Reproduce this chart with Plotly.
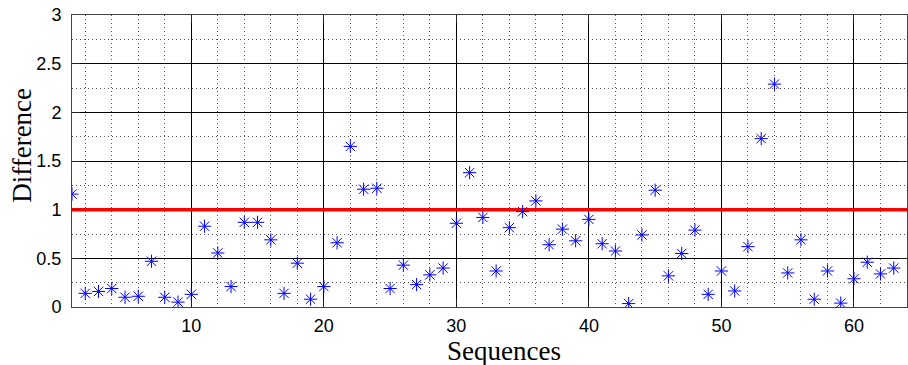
import plotly.graph_objects as go

# Data
sequences = list(range(1, 64))
difference = [
    1.16, 0.14, 0.16, 0.19, 0.10, 0.11, 0.47, 0.10, 0.05, 0.13,
    0.83, 0.555, 0.21, 0.87, 0.87, 0.69, 0.14, 0.45, 0.08, 0.21,
    0.66, 1.65, 1.21, 1.22, 0.19, 0.43, 0.23, 0.33, 0.40, 0.86,
    1.38, 0.92, 0.37, 0.815, 0.98, 1.09, 0.64, 0.80, 0.68, 0.90,
    0.65, 0.575, 0.035, 0.74, 1.20, 0.32, 0.55, 0.79, 0.13, 0.37,
    0.165, 0.62, 1.73, 2.29, 0.35, 0.69, 0.08, 0.37, 0.04, 0.29,
    0.46, 0.34, 0.40,
]
threshold_x = [1, 64]
threshold_y = [1, 1]
x_ticks = [10, 20, 30, 40, 50, 60]
y_ticks = [0, 0.5, 1, 1.5, 2, 2.5, 3]
y_tick_text = ["0", "0.5", "1", "1.5", "2", "2.5", "3"]

fig = go.Figure()
fig.add_trace(go.Scatter(
    x=threshold_x, y=threshold_y, mode="lines",
    line=dict(color="#ff0000", width=3.5), showlegend=False,
))
fig.add_trace(go.Scatter(
    x=sequences, y=difference, mode="markers",
    marker=dict(symbol="asterisk-open", size=11, color="#0000ff",
                line=dict(color="#0000ff", width=1)),
    showlegend=False,
))

tick_font = dict(family="Liberation Sans, Arial, sans-serif", size=18, color="black")
minor_dash = "1px,3px"
fig.update_xaxes(
    range=[1, 64], tickvals=x_ticks, ticks="inside", ticklen=8, tickcolor="#222",
    showline=True, linecolor="#444", linewidth=1, mirror="ticks",
    showgrid=True, gridcolor="#000", gridwidth=1, zeroline=False,
    minor=dict(dtick=2, tick0=0, showgrid=True, griddash=minor_dash,
               gridcolor="#555", gridwidth=1, ticks=""),
    tickfont=tick_font, ticklabelstandoff=2,
)
fig.update_yaxes(
    range=[0, 3], tickvals=y_ticks, ticktext=y_tick_text, ticks="inside", ticklen=8,
    tickcolor="#222",
    showline=True, linecolor="#444", linewidth=1, mirror="ticks",
    showgrid=True, gridcolor="#000", gridwidth=1, zeroline=False,
    minor=dict(dtick=0.25, tick0=0, showgrid=True, griddash=minor_dash,
               gridcolor="#555", gridwidth=1, ticks=""),
    tickfont=tick_font, ticklabelstandoff=6,
)

label_font = dict(family="Liberation Serif, Times New Roman, serif", size=27, color="black")
fig.add_annotation(text="Sequences", xref="paper", yref="paper",
                   x=0.517, y=-0.149, xanchor="center", yanchor="middle",
                   showarrow=False, font=label_font, borderpad=0)
fig.add_annotation(text="Difference", xref="paper", yref="paper",
                   x=-0.06, y=0.555, xanchor="center", yanchor="middle",
                   textangle=-90, showarrow=False, font=label_font, borderpad=0)

fig.update_layout(
    width=908, height=365,
    margin=dict(l=72, r=1, t=15, b=58),
    paper_bgcolor="white", plot_bgcolor="white",
)

fig.write_html("out.html")
